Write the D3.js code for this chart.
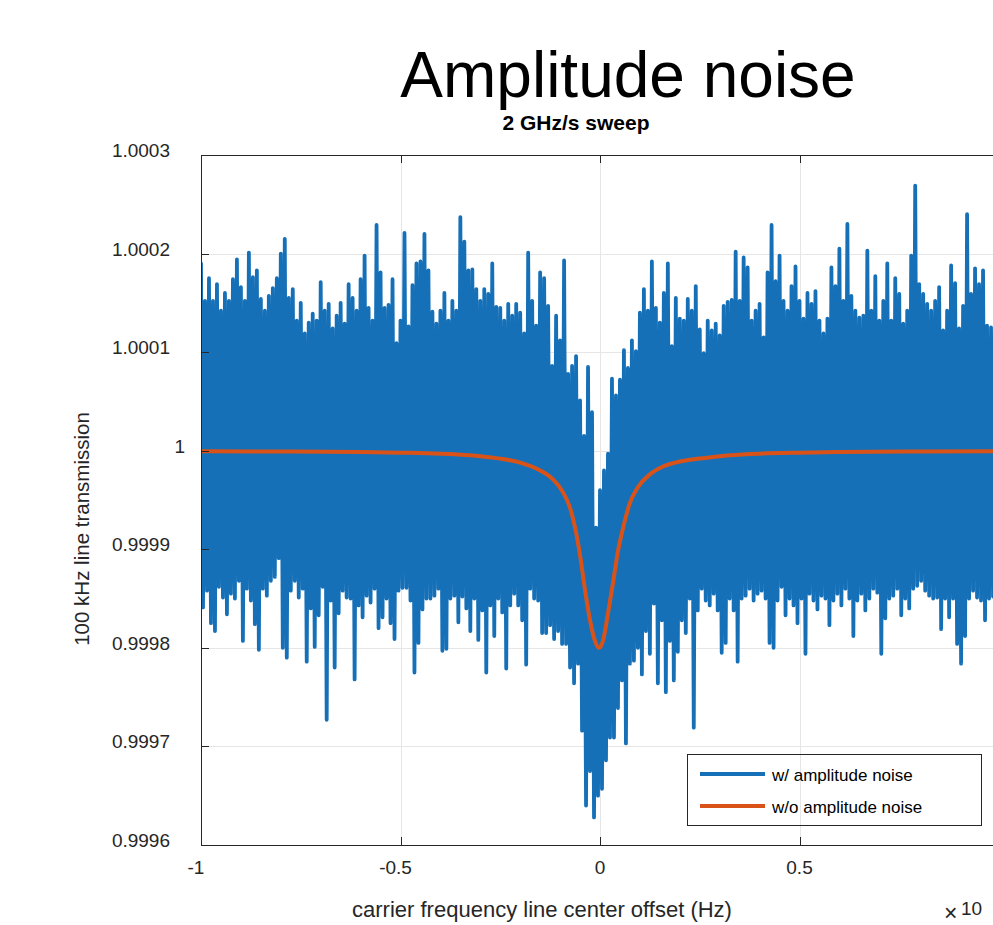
<!DOCTYPE html>
<html>
<head>
<meta charset="utf-8">
<script src="https://cdn.jsdelivr.net/npm/d3@7/dist/d3.min.js"></script>
<style>
  html, body { margin: 0; padding: 0; background: #fff; }
  svg { display: block; font-family: "Liberation Sans", Arial, Helvetica, sans-serif; }
</style>
</head>
<body>
<svg id="chart" width="993" height="925"></svg>
<script>
// ---------------- data ----------------
const titleText = "Amplitude noise";
const subtitleText = "2 GHz/s sweep";
const xLabelText = "carrier frequency line center offset (Hz)";
const yLabelText = "100 kHz line transmission";
const seriesNames = ["w/ amplitude noise", "w/o amplitude noise"];

const xTickValues = [-1, -0.5, 0, 0.5];
const xTickLabels = ["-1", "-0.5", "0", "0.5"];
const yTickValues = [0.9996, 0.9997, 0.9998, 0.9999, 1, 1.0001, 1.0002, 1.0003];
const yTickLabels = ["0.9996", "0.9997", "0.9998", "0.9999", "1", "1.0001", "1.0002", "1.0003"];

// noisy trace: sample grid (x in units of 1e10 Hz) and alternating local maxima / minima,
// stored as deviation from 1 in parts per million
const noiseStartX = -1;
const noiseStepX = 0.01;
const noiseHighPpm = [
  190,152,175,152,169,142,160,152,174,194,
  166,152,201,176,183,154,142,157,165,175,
  200,215,155,164,132,150,119,130,139,132,
  171,142,149,124,137,150,129,169,155,142,
  174,198,145,132,229,181,145,148,174,109,
  132,221,126,168,190,192,220,183,141,129,
  142,160,132,152,142,237,212,183,184,164,
  152,164,159,190,146,145,132,149,137,149,
  140,119,201,152,127,181,175,147,86,137,
  112,193,78,86,96,51,15,85,39,-78,
  -40,-20,-3,73,56,72,102,84,112,101,
  140,164,142,192,145,130,160,190,106,155,
  134,132,154,142,167,123,99,132,122,129,
  117,147,151,153,202,152,196,186,132,142,
  149,115,181,229,172,198,152,142,167,187,
  152,134,160,149,162,132,119,134,186,167,
  205,152,230,157,142,135,137,203,142,177,
  132,152,190,132,175,159,129,142,198,269,
  169,159,149,142,152,166,122,142,188,170,
  124,147,240,159,185,169,183,127,125,122
];
const noiseLowPpm = [
  -159,-142,-175,-183,-138,-149,-166,-145,-150,-132,
  -193,-140,-152,-176,-202,-140,-147,-132,-128,-109,
  -200,-210,-142,-132,-149,-140,-214,-160,-199,-167,
  -138,-273,-152,-220,-165,-142,-149,-150,-232,-157,
  -169,-147,-154,-140,-180,-169,-150,-175,-191,-142,
  -139,-139,-152,-225,-195,-161,-150,-150,-147,-140,
  -203,-201,-150,-147,-174,-148,-160,-183,-150,-192,
  -162,-225,-157,-188,-150,-164,-221,-157,-145,-157,
  -172,-217,-140,-150,-152,-185,-185,-177,-191,-183,
  -196,-196,-220,-236,-216,-284,-360,-325,-372,-350,
  -343,-314,-291,-291,-261,-233,-297,-216,-213,-200,
  -227,-183,-206,-155,-236,-172,-245,-193,-233,-204,
  -172,-185,-150,-281,-162,-140,-152,-157,-145,-162,
  -205,-195,-150,-162,-214,-150,-147,-140,-152,-145,
  -142,-150,-195,-200,-152,-138,-167,-150,-157,-175,
  -150,-206,-145,-152,-161,-147,-150,-177,-152,-145,
  -157,-140,-150,-188,-152,-145,-162,-150,-140,-144,
  -206,-170,-150,-147,-140,-167,-150,-160,-140,-137,
  -132,-142,-147,-150,-149,-181,-150,-169,-150,-196,
  -216,-188,-150,-142,-149,-152,-172,-150,-148,-150
];

// noise-free line shape
const cleanX = [-1, -0.8, -0.6, -0.5, -0.4, -0.3, -0.25, -0.2, -0.15, -0.118, -0.093, -0.075,
  -0.063, -0.05, -0.038, -0.025, -0.0125, -0.0025, 0.008, 0.02, 0.033, 0.045, 0.058, 0.075,
  0.095, 0.125, 0.158, 0.2, 0.25, 0.3, 0.4, 0.5, 0.6, 0.8, 1.0];
const cleanPpm = [-0.5, -0.8, -1.4, -2, -3, -5.5, -8, -12, -20, -29, -42, -58,
  -77, -106, -140, -172, -193, -200, -192, -165, -133, -102, -78, -53,
  -37, -24, -16, -11, -8, -5.5, -3, -2, -1.4, -0.8, -0.5];

// ---------------- drawing ----------------
const blue = "#1570b8";
const red = "#d95319";
const axisColor = "#262626";
const gridColor = "#e6e6e6";

const svg = d3.select("#chart");
const pLeft = 201, pRight = 999, pTop = 155, pBottom = 845;

const x = d3.scaleLinear().domain([-1, 1]).range([pLeft, pRight]);
const y = d3.scaleLinear().domain([0.9996, 1.0003]).range([pBottom, pTop]);

svg.append("defs").append("clipPath").attr("id", "plotclip")
  .append("rect").attr("x", pLeft).attr("y", pTop).attr("width", pRight - pLeft).attr("height", pBottom - pTop);

// grid
const grid = svg.append("g");
grid.selectAll("line.gx").data(xTickValues.filter(v => v > -1)).join("line")
  .attr("x1", d => Math.round(x(d)) + 0.5).attr("x2", d => Math.round(x(d)) + 0.5).attr("y1", pTop).attr("y2", pBottom)
  .attr("stroke", gridColor).attr("stroke-width", 1);
grid.selectAll("line.gy").data(yTickValues.filter(v => v > 0.9996 && v < 1.0003)).join("line")
  .attr("x1", pLeft).attr("x2", pRight).attr("y1", d => Math.round(y(d)) + 0.5).attr("y2", d => Math.round(y(d)) + 0.5)
  .attr("stroke", gridColor).attr("stroke-width", 1);

// noisy series
const noisePts = [];
noiseHighPpm.forEach((h, i) => {
  const x0 = noiseStartX + noiseStepX * i;
  noisePts.push([x0, 1 + h * 1e-6]);
  noisePts.push([x0 + noiseStepX / 2, 1 + noiseLowPpm[i] * 1e-6]);
});
const line = d3.line().x(d => x(d[0])).y(d => y(d[1]));

const plot = svg.append("g").attr("clip-path", "url(#plotclip)");
plot.append("path").datum(noisePts)
  .attr("d", line)
  .attr("fill", "none").attr("stroke", blue).attr("stroke-width", 3.8)
  .attr("stroke-linejoin", "round").attr("stroke-linecap", "round");

const cleanPts = cleanX.map((v, i) => [v, 1 + cleanPpm[i] * 1e-6]);
plot.append("path").datum(cleanPts)
  .attr("d", d3.line().x(d => x(d[0])).y(d => y(d[1])).curve(d3.curveMonotoneX))
  .attr("fill", "none").attr("stroke", red).attr("stroke-width", 4)
  .attr("stroke-linejoin", "round");

// axes box lines
const ax = svg.append("g").attr("stroke", axisColor).attr("stroke-width", 1).attr("fill", "none");
ax.append("line").attr("x1", pLeft + 0.5).attr("x2", pLeft + 0.5).attr("y1", pTop).attr("y2", pBottom + 0.5);
ax.append("line").attr("x1", pLeft).attr("x2", 993).attr("y1", pBottom + 0.5).attr("y2", pBottom + 0.5);
ax.append("line").attr("x1", pLeft).attr("x2", 993).attr("y1", pTop + 0.5).attr("y2", pTop + 0.5);

const tickLen = 8;
xTickValues.forEach(v => {
  const xx = Math.round(x(v)) + 0.5;
  ax.append("line").attr("x1", xx).attr("x2", xx).attr("y1", pBottom).attr("y2", pBottom - tickLen);
  ax.append("line").attr("x1", xx).attr("x2", xx).attr("y1", pTop).attr("y2", pTop + tickLen);
});
yTickValues.forEach(v => {
  const yy = Math.round(y(v)) + 0.5;
  ax.append("line").attr("x1", pLeft).attr("x2", pLeft + tickLen).attr("y1", yy).attr("y2", yy);
});

// tick labels
const tl = svg.append("g").attr("fill", axisColor).attr("font-size", 19);
tl.selectAll("text.xt").data(xTickValues).join("text")
  .attr("x", (d, i) => x(d) + (xTickLabels[i].startsWith("-") ? -5 : 0))
  .attr("y", 874)
  .attr("text-anchor", "middle")
  .text((d, i) => xTickLabels[i]);
tl.selectAll("text.yt").data(yTickValues).join("text")
  .attr("x", (d, i) => yTickLabels[i].length === 1 ? 185 : 170)
  .attr("y", d => y(d) + 2)
  .attr("text-anchor", "end")
  .text((d, i) => yTickLabels[i]);

// exponent marker
svg.append("text").attr("x", 944).attr("y", 921).attr("font-size", 23).attr("fill", axisColor).text("×");
svg.append("text").attr("x", 961).attr("y", 915).attr("font-size", 19).attr("fill", axisColor).text("10");

// axis labels
svg.append("text").attr("x", 542).attr("y", 917).attr("text-anchor", "middle")
  .attr("font-size", 22).attr("fill", axisColor).text(xLabelText);
svg.append("text").attr("transform", "translate(89,529) rotate(-90)").attr("text-anchor", "middle")
  .attr("font-size", 20.5).attr("fill", axisColor).text(yLabelText);

// titles
svg.append("text").attr("x", 628).attr("y", 97).attr("text-anchor", "middle")
  .attr("font-size", 64).attr("fill", "#000").text(titleText);
svg.append("text").attr("x", 576).attr("y", 130).attr("text-anchor", "middle")
  .attr("font-size", 21).attr("font-weight", "bold").attr("fill", "#000").text(subtitleText);

// legend
const lg = svg.append("g");
lg.append("rect").attr("x", 687.5).attr("y", 754.5).attr("width", 294).attr("height", 71)
  .attr("fill", "none").attr("stroke", axisColor).attr("stroke-width", 1);
[blue, red].forEach((c, i) => {
  const yy = 774 + i * 32;
  lg.append("line").attr("x1", 700).attr("x2", 765).attr("y1", yy).attr("y2", yy)
    .attr("stroke", c).attr("stroke-width", 4);
  lg.append("text").attr("x", 772).attr("y", yy + 4).attr("dy", "0.2em")
    .attr("font-size", 17).attr("fill", "#000").text(seriesNames[i]);
});
</script>
</body>
</html>
